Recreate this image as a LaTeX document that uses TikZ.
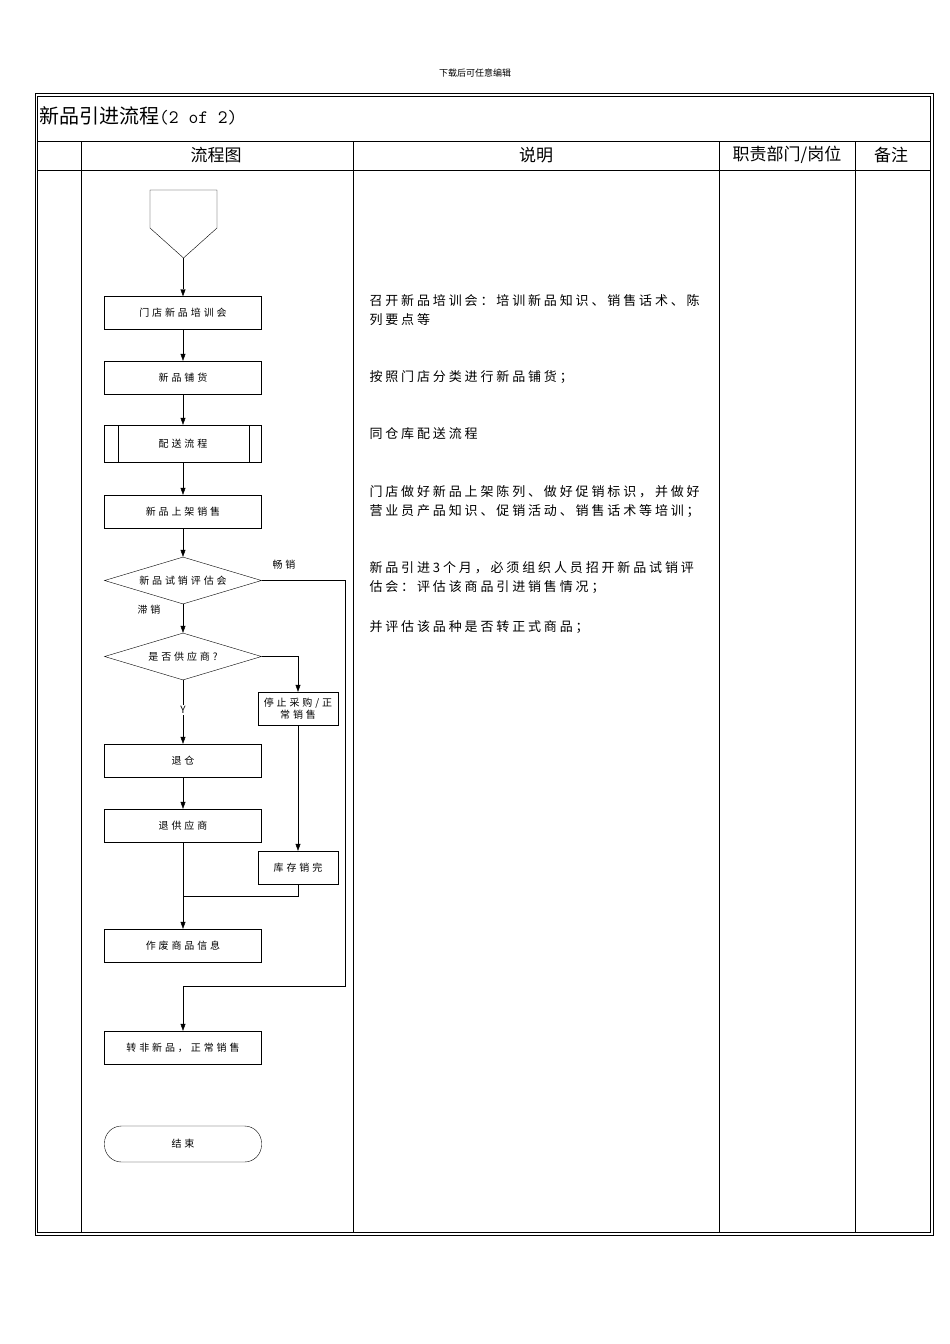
\documentclass[tikz,border=0pt]{standalone}
\usepackage{fontspec}
\setmainfont{Liberation Serif}
\newfontfamily\cjk{Noto Sans CJK SC}
\newfontfamily\cjkw[LetterSpace=22]{Noto Sans CJK SC}
\newfontfamily\cjkf[LetterSpace=29]{Noto Sans CJK SC}
\usetikzlibrary{arrows.meta,shapes.geometric}
\begin{document}
\begin{tikzpicture}[x=1pt,y=-1pt,
 ff/.style={font=\cjkf\fontsize{10}{12}\selectfont},
 box/.style={draw,minimum width=157pt,minimum height=33pt,inner sep=0pt,ff},
 sbox/.style={draw,minimum width=80pt,minimum height=33pt,inner sep=1pt,align=center,text width=78pt,ff},
 dia/.style={draw,diamond,aspect=3.34,minimum width=157pt,minimum height=47pt,inner sep=0pt,ff},
 arr/.style={-{Triangle[length=7pt,width=5pt]},thin},
 lab/.style={ff},
 desc/.style={anchor=west,font=\cjkw\fontsize{13}{19.5}\selectfont,align=left},
 hd/.style={font=\cjk\fontsize{17}{19}\selectfont}]
\useasboundingbox (0,0) rectangle (950,1344);
\node[font=\cjk\fontsize{9}{10}\selectfont] (top) at (475,73) {下载后可任意编辑};
% table
\draw[line width=0.6pt] (35,93) rectangle (933,1235);
\draw[line width=0.6pt] (37.5,96) rectangle (930.5,1232.5);
\draw (37.5,141) -- (930.5,141);
\draw (37.5,170) -- (930.5,170);
\foreach \x in {81,353,719,855} \draw (\x,141) -- (\x,1232.5);
\node[font=\cjk\fontsize{20}{22}\selectfont,anchor=west,inner sep=0pt] (title) at (39,116) {新品引进流程\fontsize{19}{22}\selectfont\ttfamily (2 of 2)};
\node[hd] (h1) at (216,155) {流程图};
\node[hd] (h2) at (536,155) {说明};
\node[hd] (h3) at (787,155) {职责部门/岗位};
\node[hd] (h4) at (891,155) {备注};
% flowchart
\draw (150,190) -- (217,190) -- (217,228) -- (183.5,258) -- (150,228) -- cycle;
\coordinate (s) at (183,258);
\node[box] (b1) at (183,313) {门店新品培训会};
\node[box] (b2) at (183,377.5) {新品铺货};
\node[box,minimum height=37pt] (b3) at (183,443.5) {配送流程};
\draw (118,425) -- (118,462) (249,425) -- (249,462);
\node[box] (b4) at (183,511.5) {新品上架销售};
\node[dia] (d1) at (183,580.5) {新品试销评估会};
\node[dia] (d2) at (183,656.5) {是否供应商?};
\node[sbox] (s1) at (298,708.5) {停止采购/正\\常销售};
\node[box] (b5) at (183,760.5) {退仓};
\node[box] (b6) at (183,825.5) {退供应商};
\node[sbox] (s2) at (298,867.5) {库存销完};
\node[box] (b7) at (183,945.5) {作废商品信息};
\node[box] (b8) at (183,1047.5) {转非新品，正常销售};
\node[box,rounded corners=17pt,minimum height=36pt] (e) at (183,1144) {结束};
\draw[arr] (s) -- (b1);
\draw[arr] (b1) -- (b2);
\draw[arr] (b2) -- (b3);
\draw[arr] (b3) -- (b4);
\draw[arr] (b4) -- (d1);
\draw[arr] (d1) -- (d2);
\draw[arr] (d2) -- (b5);
\draw[arr] (b5) -- (b6);
\draw[arr] (d2.east) -| (s1.north);
\draw[arr] (s1) -- (s2);
\draw[arr] (b6) -- (b7);
\draw (s2.south) |- (183,896);
\draw[arr] (d1.east) -- (345,580.5) -- (345,986) -- (183,986) -- (b8.north);
\node[lab,fill=white,inner sep=1pt] (ly) at (183,710) {Y};
\node[lab] (l1) at (284,565) {畅销};
\node[lab] (l2) at (149,610) {滞销};
% descriptions
\node[desc] (t1) at (366,310) {召开新品培训会：培训新品知识、销售话术、陈\\列要点等};
\node[desc] (t2) at (366,377) {按照门店分类进行新品铺货；};
\node[desc] (t3) at (366,434) {同仓库配送流程};
\node[desc] (t4) at (366,501.5) {门店做好新品上架陈列、做好促销标识，并做好\\营业员产品知识、促销活动、销售话术等培训；};
\node[desc] (t5) at (366,577.5) {新品引进3个月，必须组织人员招开新品试销评\\估会：评估该商品引进销售情况；};
\node[desc] (t6) at (366,627) {并评估该品种是否转正式商品；};
\end{tikzpicture}
\end{document}
